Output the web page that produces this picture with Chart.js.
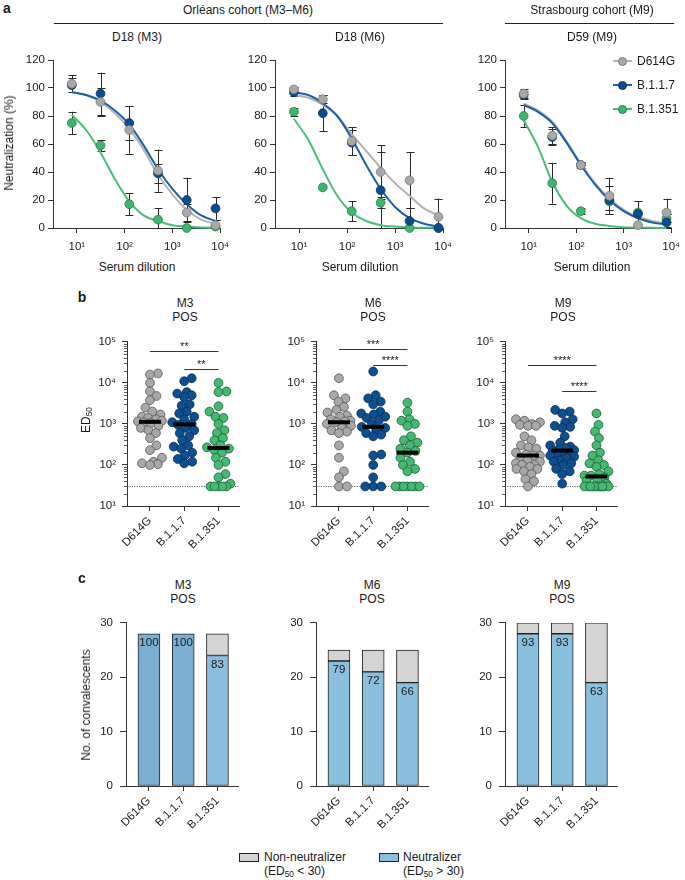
<!DOCTYPE html>
<html><head><meta charset="utf-8">
<script src="https://cdn.jsdelivr.net/npm/chart.js@4.4.0/dist/chart.umd.min.js"></script>
<style>
body{margin:0;background:#fff;}
#root{position:relative;width:685px;height:880px;overflow:hidden;font-family:'Liberation Sans',Arial,Helvetica,sans-serif;color:#1a1a1a;background:#fff;}
.t{position:absolute;font-size:11.5px;white-space:nowrap;transform:translate(-50%,-50%);line-height:1;}
.l{position:absolute;font-size:11.5px;white-space:nowrap;transform:translate(0,-50%);line-height:1;}
.r{position:absolute;font-size:11.5px;white-space:nowrap;transform:translate(-50%,-50%) rotate(-90deg);line-height:1;}
.lbl{position:absolute;font-weight:bold;font-size:14px;transform:translate(-50%,-50%);line-height:1;}
sub{font-size:0.7em;vertical-align:-0.25em;line-height:0;}
canvas{position:absolute;}
</style></head><body><div id="root"></div>
<script>
// ---------------- DATA ----------------
const variants = ['D614G', 'B.1.1.7', 'B.1.351'];
const dilutions = [7.8125, 31.25, 125, 500, 2000, 8000];
const fitDilutions = [7.8125, 15.625, 31.25, 62.5, 125, 250, 500, 1000, 2000, 4000, 8000];
const dilutionTicks = [10, 100, 1000, 10000];
const dilutionTickLabels = ['10¹', '10²', '10³', '10⁴'];
const neutTicks = [0, 20, 40, 60, 80, 100, 120];

// a: D18 (M3)
const m3D614G = [103, 90, 70, 41, 11, 2];
const m3D614GSd = [6, 10, 17, 15, 6, 4];
const m3B117 = [102, 96, 75, 39, 20, 14];
const m3B117Sd = [5, 15, 12, 7, 16, 8];
const m3B1351 = [75, 59, 17, 6, 0, 1];
const m3B1351Sd = [8, 4, 8, 8, 0, 0];
const m3FitD614G = [97, 95, 90, 82, 71, 56, 38, 24, 13, 6, 3];
const m3FitB117 = [97, 95, 91, 84, 74, 59, 42, 28, 17, 9, 5];
const m3FitB1351 = [81, 70, 54, 35, 19, 9, 5, 2, 1, 0.4, 0.2];
// a: D18 (M6)
const m6D614G = [99, 92, 62, 40, 34, 8];
const m6D614GSd = [2, 3, 10, 19, 20, 13];
const m6B117 = [97, 82, 61, 27, 5, 0];
const m6B117Sd = [3, 13, 9, 27, 9, 0];
const m6B1351 = [83, 29, 12, 18, 0, 0];
const m6B1351Sd = [3, 0, 7, 4, 0, 0];
const m6FitD614G = [95, 93, 88, 80, 67, 55, 43, 32, 23, 14, 9];
const m6FitB117 = [97, 95, 89, 80, 64, 45, 28, 15, 7, 3, 1];
const m6FitB1351 = [78, 63, 42, 23, 11, 5, 2, 1, 0.4, 0.2, 0.1];
// a: D59 (M9)
const m9D614G = [96, 66, 45, 23, 2, 11];
const m9D614GSd = [3, 6, 2, 13, 0, 10];
const m9B117 = [95, 65, 45, 20, 10, 4];
const m9B117Sd = [3, 6, 2, 10, 0, 6];
const m9B1351 = [80, 32, 12, 19, 11, 7];
const m9B1351Sd = [8, 14.5, 2, 6, 8, 3];
const m9FitD614G = [89, 84, 76, 62, 46, 32, 21, 13, 8, 5, 3];
const m9FitB117 = [88, 83, 75, 61, 45, 31, 20, 12, 7, 4, 2.5];
const m9FitB1351 = [77, 58, 33, 16, 7, 3, 1.5, 0.6, 0.3, 0.1, 0];

// b: ED50 per convalescent
const edM3D614G = [17000, 16000, 10000, 6200, 4800, 3800, 2500, 2000, 1700, 1500, 1400, 1300, 1200, 1150, 1100, 1050, 900, 800, 700, 600, 450, 300, 230, 150, 120, 110, 105, 100];
const edM3B117 = [13000, 11000, 6000, 5500, 5000, 4500, 3000, 2800, 2000, 1800, 1500, 1300, 1100, 1000, 950, 800, 700, 600, 500, 400, 300, 280, 250, 200, 170, 140, 120, 110];
const edM3B1351 = [10000, 6200, 6000, 2700, 2000, 1500, 1400, 1000, 700, 600, 450, 400, 300, 270, 250, 230, 200, 150, 120, 100, 60, 50, 35, 30, 30, 30, 30, 30];
const edM6D614G = [13000, 5000, 4200, 3500, 2600, 2200, 1900, 1600, 1500, 1300, 1200, 1150, 1100, 1000, 900, 800, 700, 650, 600, 300, 150, 70, 50, 30, 30];
const edM6B117 = [19000, 5000, 4200, 3500, 3000, 2000, 1800, 1700, 1500, 1400, 1200, 1000, 850, 800, 700, 600, 550, 500, 180, 170, 100, 50, 30, 30, 30];
const edM6B1351 = [3300, 2000, 1300, 1200, 1000, 900, 500, 400, 350, 300, 250, 220, 200, 150, 120, 100, 80, 70, 30, 30, 30, 30, 30, 30, 30];
const edM9D614G = [1300, 1200, 1100, 1000, 950, 900, 900, 500, 400, 300, 270, 250, 200, 180, 170, 170, 150, 130, 120, 110, 100, 100, 90, 80, 80, 70, 60, 45, 40, 30];
const edM9B117 = [2200, 2000, 1800, 1300, 1100, 900, 850, 800, 500, 350, 300, 280, 260, 240, 230, 220, 200, 190, 180, 170, 160, 150, 130, 120, 110, 100, 80, 70, 60, 35];
const edM9B1351 = [1800, 950, 650, 450, 300, 200, 170, 130, 110, 100, 90, 70, 60, 55, 55, 50, 45, 40, 35, 30, 30, 30, 30, 30, 30, 30, 30, 30, 30, 30];
const detectionLimit = 30;
const edTicks = [10, 100, 1000, 10000, 100000];
const edTickLabels = ['10¹', '10²', '10³', '10⁴', '10⁵'];
const sigPairs = [[0, 2], [1, 2]];
const sigM3 = ['**', '**'];
const sigM3Y = [59600, 21900];
const sigM6 = ['***', '****'];
const sigM6Y = [66000, 27500];
const sigM9 = ['****', '****'];
const sigM9Y = [28000, 6500];

// c: number of convalescents
const neutM3 = [28, 28, 24];
const nonNeutM3 = [0, 0, 4];
const pctM3 = [100, 100, 83];
const neutM6 = [23, 21, 19];
const nonNeutM6 = [2, 4, 6];
const pctM6 = [79, 72, 66];
const neutM9 = [28, 28, 19];
const nonNeutM9 = [2, 2, 11];
const pctM9 = [93, 93, 63];
const countTicks = [0, 10, 20, 30];

// ---------------- STYLE ----------------
const FONT = "'Liberation Sans', Arial, Helvetica, sans-serif";
Chart.defaults.font.family = FONT;
Chart.defaults.font.size = 11.5;
Chart.defaults.color = '#1a1a1a';
Chart.defaults.animation = false;
Chart.defaults.plugins.legend.display = false;
Chart.defaults.plugins.tooltip.enabled = false;
const AX = '#333';
const colA = {
  fill: ['#a8a8a8', '#0c4c8c', '#3fb56d'],
  edge: ['#7a7a7a', '#08335e', '#23804a'],
  curve: ['#b3b3b3', '#1d5fa6', '#4bbd76']
};
const colB = { fill: ['#a8a8a8', '#0e4f8f', '#45b872'], edge: ['#555', '#062a50', '#165e33'] };
const barBlue = '#8bbfde', barBlueFull = '#7aafd1', barGrey = '#d4d4d4';

const root = document.getElementById('root');
function txt(cls, x, y, html, extra) {
  const d = document.createElement('div');
  d.className = cls; d.style.left = x + 'px'; d.style.top = y + 'px'; d.innerHTML = html;
  if (extra) Object.assign(d.style, extra);
  root.appendChild(d); return d;
}
function box(x, y, w, h, css) {
  const d = document.createElement('div');
  Object.assign(d.style, { position: 'absolute', left: x + 'px', top: y + 'px', width: w + 'px', height: h + 'px' }, css);
  root.appendChild(d); return d;
}
function addCanvas(area, Wy, Hx, padTop, padRight) {
  const L = area.left - Wy, T = area.top - padTop;
  const W = Math.round(area.right + padRight - L), H = Math.round(area.bottom + Hx - T);
  const c = document.createElement('canvas');
  c.width = W; c.height = H;
  Object.assign(c.style, { left: L + 'px', top: T + 'px', width: W + 'px', height: H + 'px' });
  root.appendChild(c);
  return { canvas: c, padTop, padRight, Wy, Hx };
}
function axisBase(fixed, horiz, tickLen, pad) {
  return {
    afterFit: s => { if (horiz) s.height = fixed; else s.width = fixed; },
    offset: false,
    border: { display: true, color: AX, width: 1 },
    grid: { drawOnChartArea: false, drawTicks: true, tickLength: tickLen, color: AX, tickColor: AX, lineWidth: 1, offset: false },
    ticks: { padding: pad, color: '#1a1a1a', autoSkip: false, font: { size: 11.5 } }
  };
}

// ---------------- PANEL a ----------------
const errorBars = {
  id: 'errorBars',
  beforeDatasetsDraw(chart) {
    const ctx = chart.ctx, xs = chart.scales.x, ys = chart.scales.y;
    ctx.save(); ctx.strokeStyle = '#2a2a2a'; ctx.lineWidth = 1;
    chart.data.datasets.forEach(ds => {
      if (!ds.sd) return;
      ds.data.forEach((p, i) => {
        const sd = ds.sd[i]; if (!sd) return;
        const x = Math.round(xs.getPixelForValue(p.x)) + 0.5;
        const y1 = ys.getPixelForValue(Math.min(p.y + sd, 125)), y2 = ys.getPixelForValue(Math.max(p.y - sd, 0));
        ctx.beginPath();
        ctx.moveTo(x, y1); ctx.lineTo(x, y2);
        ctx.moveTo(x - 4, Math.round(y1) + 0.5); ctx.lineTo(x + 4, Math.round(y1) + 0.5);
        ctx.moveTo(x - 4, Math.round(y2) + 0.5); ctx.lineTo(x + 4, Math.round(y2) + 0.5);
        ctx.stroke();
      });
    });
    ctx.restore();
  }
};
function neutChart(area, pts, sds, fits) {
  const f = addCanvas(area, 53, 32, 12, 14);
  const datasets = [];
  for (let k = 0; k < 3; k++) {
    datasets.push({
      type: 'line', data: fitDilutions.map((x, i) => ({ x, y: fits[k][i] })),
      borderColor: colA.curve[k], borderWidth: 2, pointRadius: 0, cubicInterpolationMode: 'monotone',
      fill: false, order: 10 + (2 - k), clip: false
    });
    datasets.push({
      type: 'scatter', data: dilutions.map((x, i) => ({ x, y: pts[k][i] })), sd: sds[k],
      backgroundColor: colA.fill[k], borderColor: colA.edge[k], borderWidth: 0.8, pointRadius: 4.4,
      order: 1 + k, clip: false
    });
  }
  const xA = axisBase(f.Hx, true, 5, 7);
  Object.assign(xA, {
    type: 'logarithmic', min: Math.pow(10, 0.5), max: 10000,
    afterBuildTicks: s => { s.ticks = dilutionTicks.map(v => ({ value: v })); }
  });
  xA.ticks.callback = v => dilutionTickLabels[dilutionTicks.indexOf(v)];
  xA.ticks.maxRotation = 0; xA.ticks.minRotation = 0;
  const yA = axisBase(f.Wy, false, 5, 3);
  Object.assign(yA, { type: 'linear', min: 0, max: 120,
    afterBuildTicks: s => { s.ticks = neutTicks.map(v => ({ value: v })); } });
  new Chart(f.canvas, {
    data: { datasets },
    options: {
      responsive: false, devicePixelRatio: 1,
      layout: { padding: { top: f.padTop, right: f.padRight, left: 0, bottom: 0 } },
      scales: { x: xA, y: yA }
    },
    plugins: [errorBars]
  });
}
neutChart({ left: 53, right: 222, top: 60, bottom: 228 },
  [m3D614G, m3B117, m3B1351], [m3D614GSd, m3B117Sd, m3B1351Sd], [m3FitD614G, m3FitB117, m3FitB1351]);
neutChart({ left: 275, right: 445, top: 60, bottom: 228 },
  [m6D614G, m6B117, m6B1351], [m6D614GSd, m6B117Sd, m6B1351Sd], [m6FitD614G, m6FitB117, m6FitB1351]);
neutChart({ left: 505, right: 673, top: 60, bottom: 228 },
  [m9D614G, m9B117, m9B1351], [m9D614GSd, m9B117Sd, m9B1351Sd], [m9FitD614G, m9FitB117, m9FitB1351]);

txt('lbl', 7, 8, 'a');
txt('t', 248, 10, 'Orléans cohort (M3–M6)', { fontSize: '12px' });
box(54, 23, 389, 1, { background: '#222' });
txt('t', 592, 10, 'Strasbourg cohort (M9)', { fontSize: '12px' });
box(505, 23, 169, 1, { background: '#222' });
txt('t', 137, 37, 'D18 (M3)', { fontSize: '12px' });
txt('t', 360, 37, 'D18 (M6)', { fontSize: '12px' });
txt('t', 592, 37, 'D59 (M9)', { fontSize: '12px' });
txt('r', 9, 143, 'Neutralization (%)', { fontSize: '12px' });
txt('t', 137, 267, 'Serum dilution', { fontSize: '12px' });
txt('t', 360, 267, 'Serum dilution', { fontSize: '12px' });
txt('t', 592, 267, 'Serum dilution', { fontSize: '12px' });
[61, 85, 109].forEach((y, k) => {
  box(613, y - 1, 19, 2, { background: colA.curve[k] });
  box(618, y - 4.5, 9, 9, { background: colA.fill[k], borderRadius: '50%', boxSizing: 'border-box', border: '0.8px solid ' + colA.edge[k] });
  txt('l', 637, y, variants[k], { fontSize: '12px' });
});

// ---------------- PANEL b ----------------
const PX_UNIT = 34.3, PX_DEC = 42.25, R = 4.4;
function swarm(values, center) {
  const order = values.map((v, i) => ({ v, i, y: Math.log10(v) * PX_DEC })).sort((a, b) => a.y - b.y);
  const placed = [], out = new Array(values.length);
  const cands = [0];
  for (let s = 0.5; s <= 12; s += 0.5) { cands.push(s, -s); }
  for (const p of order) {
    let best = 0, bestD = -1;
    for (const dx of cands) {
      let md = Infinity;
      for (const q of placed) { const d = Math.hypot(dx - q.dx, p.y - q.y); if (d < md) md = d; }
      if (md >= 2 * R * 0.88) { best = dx; bestD = Infinity; break; }
      if (md > bestD + 0.01) { bestD = md; best = dx; }
    }
    placed.push({ dx: best, y: p.y });
    out[p.i] = { x: center + best / PX_UNIT, y: p.v };
  }
  return out;
}
function median(a) { const s = a.slice().sort((x, y) => x - y), n = s.length; return n % 2 ? s[(n - 1) / 2] : (s[n / 2 - 1] + s[n / 2]) / 2; }
const edPlugin = {
  id: 'edPlugin',
  beforeDatasetsDraw(chart) {
    const ctx = chart.ctx, xs = chart.scales.x, ys = chart.scales.y, ca = chart.chartArea;
    ctx.save();
    ctx.strokeStyle = AX; ctx.lineWidth = 0.8;
    for (let n = 1; n < 5; n++) for (let m = 2; m < 10; m++) {
      const y = Math.round(ys.getPixelForValue(m * Math.pow(10, n))) + 0.5;
      ctx.beginPath(); ctx.moveTo(ca.left - 3, y); ctx.lineTo(ca.left, y); ctx.stroke();
    }
    const yl = Math.round(ys.getPixelForValue(detectionLimit)) + 0.5;
    ctx.setLineDash([1.2, 1.2]); ctx.strokeStyle = '#444'; ctx.lineWidth = 0.8;
    ctx.beginPath(); ctx.moveTo(ca.left, yl); ctx.lineTo(ca.right, yl); ctx.stroke();
    ctx.setLineDash([]);
    const sig = chart.options.sig;
    ctx.strokeStyle = '#333'; ctx.lineWidth = 1; ctx.fillStyle = '#1a1a1a';
    ctx.font = '11px ' + FONT; ctx.textAlign = 'center'; ctx.textBaseline = 'alphabetic';
    sigPairs.forEach((pr, j) => {
      const y = Math.round(ys.getPixelForValue(sig.y[j])) + 0.5;
      const x1 = xs.getPixelForValue(pr[0]), x2 = xs.getPixelForValue(pr[1]);
      ctx.beginPath(); ctx.moveTo(x1, y); ctx.lineTo(x2, y); ctx.stroke();
      ctx.fillText(sig.t[j], (x1 + x2) / 2, y - 2);
    });
    ctx.restore();
  },
  afterDatasetsDraw(chart) {
    const ctx = chart.ctx, xs = chart.scales.x, ys = chart.scales.y;
    ctx.save(); ctx.fillStyle = '#000';
    chart.options.groups.forEach((g, c) => {
      const y = ys.getPixelForValue(median(g)), x = xs.getPixelForValue(c);
      ctx.fillRect(x - 11, y - 2, 22, 4);
    });
    ctx.restore();
  }
};
function catAxis(fixed, tickLen, pad) {
  const xA = axisBase(fixed, true, tickLen, pad);
  Object.assign(xA, { type: 'linear', min: -0.67, max: 2.6, bounds: 'ticks',
    afterBuildTicks: s => { s.ticks = [0, 1, 2].map(v => ({ value: v })); } });
  xA.ticks.callback = v => variants[v];
  xA.ticks.maxRotation = 45; xA.ticks.minRotation = 45;
  return xA;
}
function edChart(area, groups, sig) {
  const f = addCanvas(area, 40, 50, 8, 8);
  const datasets = groups.map((g, k) => ({
    type: 'scatter', data: swarm(g, k), backgroundColor: colB.fill[k], borderColor: colB.edge[k],
    borderWidth: 0.8, pointRadius: R, clip: false
  }));
  const yA = axisBase(f.Wy, false, 5, 6);
  Object.assign(yA, { type: 'logarithmic', min: 10, max: 100000,
    afterBuildTicks: s => { s.ticks = edTicks.map(v => ({ value: v, major: true })); } });
  yA.ticks.callback = v => edTickLabels[edTicks.indexOf(v)];
  new Chart(f.canvas, {
    data: { datasets },
    options: {
      responsive: false, devicePixelRatio: 1, groups, sig,
      layout: { padding: { top: f.padTop, right: f.padRight, left: 0, bottom: 0 } },
      scales: { x: catAxis(f.Hx, 5, 3), y: yA }
    },
    plugins: [edPlugin]
  });
}
edChart({ left: 127, right: 239, top: 337, bottom: 506 }, [edM3D614G, edM3B117, edM3B1351], { t: sigM3, y: sigM3Y });
edChart({ left: 316, right: 428, top: 337, bottom: 506 }, [edM6D614G, edM6B117, edM6B1351], { t: sigM6, y: sigM6Y });
edChart({ left: 505, right: 617, top: 337, bottom: 506 }, [edM9D614G, edM9B117, edM9B1351], { t: sigM9, y: sigM9Y });

txt('lbl', 82, 297, 'b');
[[185, 'M3'], [373, 'M6'], [563, 'M9']].forEach(([x, m]) => { txt('t', x, 303, m, { fontSize: '12px' }); txt('t', x, 317, 'POS', { fontSize: '12px' }); });
txt('r', 86, 420, 'ED<sub>50</sub>', { fontSize: '12px' });

// ---------------- PANEL c ----------------
const pctLabels = {
  id: 'pctLabels',
  afterDatasetsDraw(chart) {
    const ctx = chart.ctx, meta = chart.getDatasetMeta(0);
    ctx.save(); ctx.fillStyle = '#1a1a1a'; ctx.font = '11.5px ' + FONT; ctx.textAlign = 'center'; ctx.textBaseline = 'middle';
    meta.data.forEach((el, i) => { ctx.fillText(String(chart.options.pct[i]), el.x, el.y + 9); });
    ctx.restore();
  }
};
function countChart(area, neut, non, pct) {
  const f = addCanvas(area, 40, 50, 8, 8);
  const xA = catAxis(f.Hx, 5, 3);
  const yA = axisBase(f.Wy, false, 6, 7);
  Object.assign(yA, { type: 'linear', min: 0, max: 30, stacked: true,
    afterBuildTicks: s => { s.ticks = countTicks.map(v => ({ value: v })); } });
  new Chart(f.canvas, {
    type: 'bar',
    data: { datasets: [
      { data: neut.map((v, i) => ({ x: i, y: v })), backgroundColor: non.map(v => v === 0 ? barBlueFull : barBlue),
        borderColor: '#222', borderWidth: 1, borderSkipped: false, barThickness: 22, stack: 's' },
      { data: non.map((v, i) => ({ x: i, y: v })), backgroundColor: barGrey,
        borderColor: '#222', borderWidth: 1, borderSkipped: false, barThickness: 22, stack: 's' }
    ] },
    options: {
      responsive: false, devicePixelRatio: 1, pct,
      layout: { padding: { top: f.padTop, right: f.padRight, left: 0, bottom: 0 } },
      scales: { x: xA, y: yA }
    },
    plugins: [pctLabels]
  });
}
countChart({ left: 126, right: 238, top: 617, bottom: 786 }, neutM3, nonNeutM3, pctM3);
countChart({ left: 316, right: 428, top: 617, bottom: 786 }, neutM6, nonNeutM6, pctM6);
countChart({ left: 505, right: 617, top: 617, bottom: 786 }, neutM9, nonNeutM9, pctM9);

txt('lbl', 82, 578, 'c');
[[183, 'M3'], [372, 'M6'], [562, 'M9']].forEach(([x, m]) => { txt('t', x, 585, m, { fontSize: '12px' }); txt('t', x, 599, 'POS', { fontSize: '12px' }); });
txt('r', 86, 705, 'No. of convalescents', { fontSize: '12px' });

box(239, 853, 20, 9, { background: barGrey, border: '1px solid #222', boxSizing: 'border-box' });
txt('l', 264, 857, 'Non-neutralizer', { fontSize: '12px' });
txt('l', 264, 871, '(ED<sub>50</sub> &lt; 30)', { fontSize: '12px' });
box(379, 853, 20, 9, { background: barBlue, border: '1px solid #222', boxSizing: 'border-box' });
txt('l', 403, 857, 'Neutralizer', { fontSize: '12px' });
txt('l', 403, 871, '(ED<sub>50</sub> &gt; 30)', { fontSize: '12px' });
</script></body></html>
